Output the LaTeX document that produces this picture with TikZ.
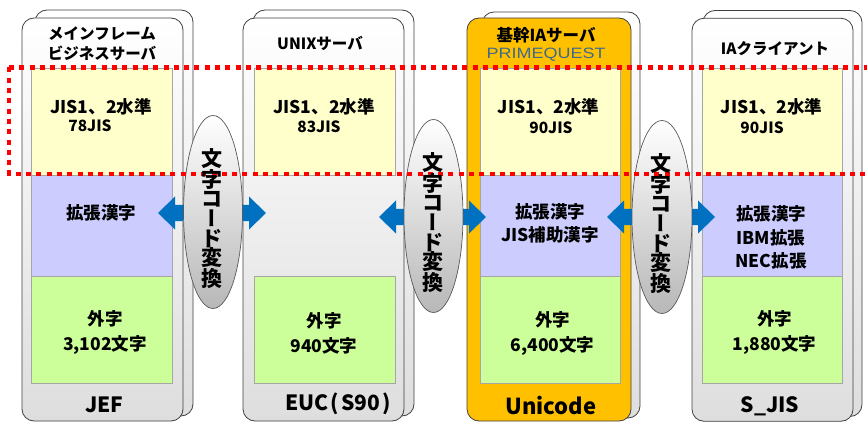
\documentclass[tikz,border=0pt]{standalone}
\usepackage{fontspec}
\usepackage{graphicx}
\setmainfont{Noto Sans CJK JP}
\newfontfamily\pqfont{Liberation Sans}
\usetikzlibrary{shapes.geometric,calc}
\definecolor{cardedge}{HTML}{404040}
\definecolor{boxedge}{HTML}{A6A6A6}
\definecolor{jisyellow}{HTML}{FFFFCC}
\definecolor{extpurple}{HTML}{CCCCFF}
\definecolor{gaijigreen}{HTML}{CCFF99}
\definecolor{pqorange}{HTML}{FFC000}
\definecolor{pqblue}{HTML}{3E6A8C}
\definecolor{arrowblue}{HTML}{0070C0}
\definecolor{ellipseedge}{HTML}{595959}
\newcommand\dblarrow[3]{%
  \fill[arrowblue] (#1,#3) -- (#1+17,#3-16.5) -- (#1+17,#3-8) -- (#2-17,#3-8)
    -- (#2-17,#3-16.5) -- (#2,#3) -- (#2-17,#3+16.5) -- (#2-17,#3+8)
    -- (#1+17,#3+8) -- (#1+17,#3+16.5) -- cycle;}
\newcommand\vbar{{\addfontfeature{RawFeature=+vert}ー}}
\newcommand\convword{文\\字\\コ\\\vbar\\ド\\変\\換}
\begin{document}
\begin{tikzpicture}[x=1pt,y=-1pt,
  card/.style={draw=cardedge, line width=0.8pt, rounded corners=12pt,
    top color=white, bottom color=black!13, shading angle=0,
    minimum width=#1, inner sep=0pt, minimum height=403},
  backcard/.style={card=#1, minimum height=406},
  pqcard/.style={draw=cardedge, line width=0.8pt, rounded corners=12pt,
    fill=pqorange, minimum width=164, minimum height=403, inner sep=0pt},
  jisbox/.style={draw=boxedge, line width=0.8pt, fill=jisyellow, minimum width=#1, minimum height=107, inner sep=0pt},
  extbox/.style={draw=boxedge, line width=0.8pt, fill=extpurple, minimum width=#1, minimum height=101, inner sep=0pt},
  gaijibox/.style={draw=boxedge, line width=0.8pt, fill=gaijigreen, minimum width=#1, minimum height=107, inner sep=0pt},
  conv/.style={ellipse, draw=ellipseedge, line width=0.7pt, top color=white, bottom color=black!28,
    minimum width=59, minimum height=193, inner sep=0pt},
  convtext/.style={font=\bfseries\fontsize{21}{19.6}\selectfont, align=center, inner sep=0pt},
  ttl/.style={font=\bfseries\fontsize{15.5}{20}\selectfont, align=center, inner sep=0pt},
  lbl/.style={font=\bfseries\fontsize{17.5}{23}\selectfont, align=center, inner sep=0pt},
  gaiji/.style={font=\bfseries\fontsize{17.5}{25}\selectfont, align=center, inner sep=0pt},
  sub/.style={font=\bfseries\fontsize{15.5}{18}\selectfont, inner sep=0pt},
  code/.style={font=\bfseries\fontsize{21}{24}\selectfont, inner sep=0pt},
  reddot/.style={draw=red, line width=4.5pt, dash pattern=on 5pt off 5.3pt}
]
\useasboundingbox (0,0) rectangle (867,422);

% ---- cards ----
\node[backcard=158] (b1) at (114,213) {};
\node[card=161] (f1) at (102.5,219.5) {};
\node[backcard=161] (b2) at (333.5,213) {};
\node[card=161] (f2) at (323.5,219.5) {};
\node[backcard=158] (b3) at (561,215) {};
\node[pqcard] (f3) at (549,219.5) {};
\node[backcard=159] (b4) at (782.5,213.5) {};
\node[card=161] (f4) at (772.5,219.75) {};

% ---- inner boxes ----
\node[jisbox=141] (j1) at (101.5,121.5) {};
\node[extbox=141] (e1) at (101.5,225.5) {};
\node[gaijibox=141] (g1) at (101.5,329.5) {};

\node[jisbox=141] (j2) at (324.5,121.5) {};
\node[gaijibox=141] (g2) at (324.5,329.5) {};

\node[jisbox=140] (j3) at (550,121.5) {};
\node[extbox=140] (e3) at (550,225.5) {};
\node[gaijibox=140] (g3) at (550,329.5) {};

\node[jisbox=140] (j4) at (772,121.5) {};
\node[extbox=140] (e4) at (772,225.5) {};
\node[gaijibox=140] (g4) at (772,329.5) {};

% ---- column 1 texts ----
\node[ttl] (t1) at (102,44) {メインフレーム\\ビジネスサーバ};
\node[lbl] (j1a) at (101,107) {JIS1、2水準};
\node[sub] (j1b) at (90,125.5) {78JIS};
\node[lbl] (e1a) at (101,213) {拡張漢字};
\node[gaiji] (g1a) at (105,332.5) {外字\\3,102文字};
\node[code] (c1) at (104.5,405) {JEF};

% ---- column 2 texts ----
\node[ttl] (t2) at (320,43) {UNIXサーバ};
\node[lbl] (j2a) at (324,107) {JIS1、2水準};
\node[sub] (j2b) at (319,127) {83JIS};
\node[gaiji] (g2a) at (324,333) {外字\\940文字};
\node[code] (c2) at (338,404) {EUC\hspace{2pt}(\hspace{2pt}S90\hspace{2pt})};

% ---- column 3 texts ----
\node[ttl, font=\bfseries\fontsize{16.5}{20}\selectfont] (t3) at (546,35) {基幹IAサーバ};
\node[inner sep=0pt, text=pqblue, font=\pqfont\fontsize{15}{16}\selectfont] (t3b) at (546,55) {\scalebox{1.2}[1]{PRIMEQUEST}};
\node[lbl] (j3a) at (548.5,107) {JIS1、2水準};
\node[sub] (j3b) at (551,127.5) {90JIS};
\node[lbl] (e3a) at (550,223.5) {拡張漢字\\JIS補助漢字};
\node[gaiji] (g3a) at (552.5,333) {外字\\6,400文字};
\node[code, font=\bfseries\fontsize{22}{24}\selectfont] (c3) at (551,406) {Unicode};

% ---- column 4 texts ----
\node[ttl] (t4) at (775,48.5) {IAクライアント};
\node[lbl] (j4a) at (771.5,107) {JIS1、2水準};
\node[sub] (j4b) at (762,128) {90JIS};
\node[lbl, font=\bfseries\fontsize{17.5}{23.5}\selectfont] (e4a) at (771,237.5) {拡張漢字\\IBM拡張\\NEC拡張};
\node[gaiji] (g4a) at (774.5,332.5) {外字\\1,880文字};
\node[code] (c4) at (770,406) {S\_JIS};

% ---- conversion arrows ----
\dblarrow{158}{266}{213}
\dblarrow{379}{486}{217}
\dblarrow{607}{715}{217}

% ---- conversion ellipses ----
\node[conv] (v1) at (213,212) {};
\node[conv] (v2) at (433.5,216) {};
\node[conv, minimum width=60] (v3) at (662,217) {};

% ---- red dotted frame ----
\draw[reddot] (9,67.5) -- (867,67.5);
\draw[reddot] (9,67.5) -- (9,174) -- (867,174);

% ---- conversion labels ----
\node[convtext] (v1t) at ($(v1)+(-1,6.5)$) {\convword};
\node[convtext] (v2t) at ($(v2)+(-1,6.5)$) {\convword};
\node[convtext] (v3t) at ($(v3)+(-1,6.5)$) {\convword};
\end{tikzpicture}
\end{document}
